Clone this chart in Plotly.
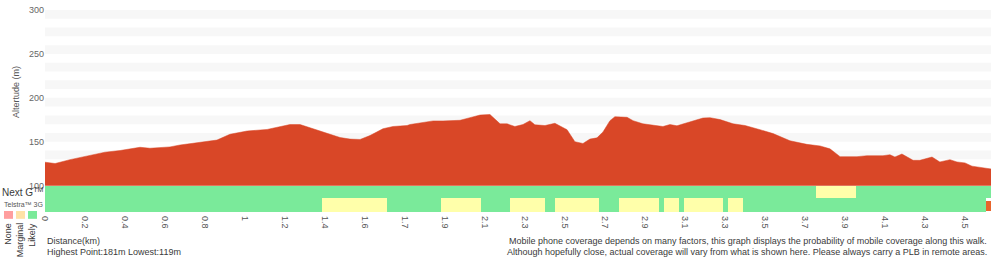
import plotly.graph_objects as go

# ---------------- data ----------------
distance_km = [0.000, 0.049, 0.121, 0.218, 0.291, 0.364, 0.461, 0.509, 0.606, 0.655,
               0.752, 0.834, 0.897, 0.980, 1.077, 1.140, 1.188, 1.237, 1.300, 1.382,
               1.431, 1.479, 1.528, 1.576, 1.639, 1.688, 1.756, 1.770, 1.833, 1.882,
               1.930, 2.013, 2.061, 2.110, 2.158, 2.207, 2.241, 2.279, 2.318, 2.352,
               2.376, 2.425, 2.473, 2.532, 2.570, 2.609, 2.643, 2.677, 2.706, 2.740,
               2.764, 2.823, 2.852, 2.900, 2.997, 3.031, 3.065, 3.143, 3.191, 3.225,
               3.274, 3.337, 3.395, 3.468, 3.531, 3.613, 3.695, 3.759, 3.807, 3.856,
               3.938, 3.986, 4.064, 4.098, 4.122, 4.156, 4.210, 4.243, 4.302, 4.340,
               4.389, 4.423, 4.462, 4.496, 4.588]
altitude_m = [126.7, 125.2, 129.6, 134.4, 138.1, 140.0, 143.7, 142.6, 144.1, 146.3,
              149.3, 151.9, 158.5, 162.2, 164.0, 167.4, 169.6, 169.6, 164.8, 159.3,
              154.8, 153.0, 152.6, 157.0, 164.8, 167.4, 168.5, 169.6, 171.8, 173.7,
              173.7, 174.4, 177.4, 180.4, 181.0, 170.4, 170.4, 167.4, 169.6, 174.0,
              169.3, 168.5, 171.0, 163.7, 150.0, 148.1, 153.0, 154.4, 161.1, 174.0,
              178.5, 177.8, 174.0, 170.4, 167.4, 169.6, 168.2, 173.3, 177.0, 177.4,
              175.2, 170.4, 168.5, 163.7, 159.3, 151.1, 147.0, 145.2, 141.9, 133.0,
              133.0, 134.1, 134.1, 135.2, 132.6, 136.0, 128.9, 128.9, 132.6, 127.0,
              129.6, 127.0, 125.9, 122.2, 119.0]

total_km = 4.588

# coverage segments (start_km, end_km)
nextg_likely = [(0.0, 3.739), (3.933, 4.588)]
nextg_marginal = [(3.739, 3.933)]
g3_likely = [(0.0, 4.564)]
g3_marginal = [(1.343, 1.659), (1.920, 2.114), (2.255, 2.425), (2.473, 2.687),
               (2.784, 2.978), (3.002, 3.075), (3.099, 3.288), (3.312, 3.385)]
g3_end = [(4.564, 4.588)]

tick_labels = ["0", "0.2", "0.4", "0.6", "0.8", "1", "1.2", "1.4", "1.6", "1.7",
               "1.9", "2.1", "2.3", "2.5", "2.7", "2.9", "3.1", "3.3", "3.5", "3.7",
               "3.9", "4.1", "4.3", "4.5"]
tick_step_km = 0.194

y_ticks = [100, 150, 200, 250, 300]
legend_labels = ["None", "Marginal", "Likely"]

# ---------------- style ----------------
RED = "#d94727"
GREEN = "#7aea9a"
YELLOW = "#ffffaa"
ORANGE = "#e8642c"
PINK = "#ff9e9e"
PEACH = "#ffe2a6"
BAND = "#f7f7f7"
TXT = "#3a3a3a"
FONT = "Liberation Sans, Arial, Helvetica, sans-serif"

W, H = 1000, 260
ML, MR, MT, MB = 45, 9, 5, 48
PW = W - ML - MR
PH = H - MT - MB
COV_PX = 27


def px(x):
    return (x - ML) / PW


def py(y):
    return (H - MB - y) / PH


fig = go.Figure()

# elevation area
fig.add_trace(go.Scatter(x=distance_km, y=altitude_m, mode="lines",
                         fill="tozeroy", fillcolor=RED,
                         line=dict(color=RED, width=0.5),
                         xaxis="x", yaxis="y", hoverinfo="skip", showlegend=False))


def add_segments(segs, row_center, row_width, color):
    fig.add_trace(go.Bar(
        x=[e - s for s, e in segs], base=[s for s, e in segs],
        y=[row_center] * len(segs), width=[row_width] * len(segs),
        orientation="h", marker=dict(color=color, line=dict(width=0)),
        xaxis="x", yaxis="y2", hoverinfo="skip", showlegend=False))


G3_C, G3_W = 7.35, 14.7
NG_C, NG_W = 20.85, 12.3
add_segments(g3_likely, G3_C, G3_W, GREEN)
add_segments(g3_marginal, G3_C, G3_W, YELLOW)
add_segments(g3_end, 6.5, 11.0, ORANGE)
add_segments(nextg_likely, NG_C, NG_W, GREEN)
add_segments(nextg_marginal, NG_C, NG_W, YELLOW)

shapes = []
# alternating background bands
for top in range(300, 100, -20):
    shapes.append(dict(type="rect", xref="x", yref="y", x0=0, x1=total_km,
                       y0=top - 10, y1=top, fillcolor=BAND, line=dict(width=0),
                       layer="below"))
# legend squares
for x0, col in [(4, PINK), (16, PEACH), (28, GREEN)]:
    shapes.append(dict(type="rect", xref="paper", yref="paper",
                       x0=px(x0), x1=px(x0 + 9), y0=py(219), y1=py(211),
                       fillcolor=col, line=dict(width=0)))

ann = []


def note(text, x, y, size=9, xanchor="left", yanchor="middle", angle=0, color=TXT):
    ann.append(dict(text=text, x=px(x), y=py(y), xref="paper", yref="paper",
                    xanchor=xanchor, yanchor=yanchor, showarrow=False,
                    textangle=angle, font=dict(size=size, color=color, family=FONT)))


note("Altertude (m)", 16, 89, size=9, xanchor="center", angle=-90, color="#555")
note("Next G<sup>TM</sup>", 0, 191, size=10)
note("Telstra™ 3G", 2, 204, size=7, color="#555")
for lbl, xc in zip(legend_labels, [8, 20, 32]):
    note(lbl, xc, 221, size=9, xanchor="center", yanchor="top", angle=-90)
note("Distance(km)", 45, 242)
note("Highest Point:181m Lowest:119m", 45, 253)
note("Mobile phone coverage depends on many factors, this graph displays the probability of mobile coverage along this walk.",
     989, 242, xanchor="right")
note("Although hopefully close, actual coverage will vary from what is shown here. Please always carry a PLB in remote areas.",
     989, 253, xanchor="right")

cov_frac = COV_PX / PH
fig.update_layout(
    width=W, height=H,
    margin=dict(l=ML, r=MR, t=MT, b=MB, pad=0),
    paper_bgcolor="white", plot_bgcolor="white",
    barmode="overlay", bargap=0,
    font=dict(family=FONT, size=9, color=TXT),
    showlegend=False,
    xaxis=dict(range=[0, total_km], anchor="y2", showgrid=False, zeroline=False,
               showline=False, tickmode="array",
               tickvals=[i * tick_step_km for i in range(len(tick_labels))],
               ticktext=tick_labels, tickangle=90, ticks="", ticklabelstandoff=3,
               tickfont=dict(size=9, color="#555")),
    yaxis=dict(domain=[cov_frac, 1], range=[100, 300], showgrid=False,
               zeroline=False, showline=False, tickmode="array", tickvals=y_ticks,
               ticks="", tickfont=dict(size=9, color="#666")),
    yaxis2=dict(domain=[0, cov_frac], range=[0, COV_PX], showgrid=False,
                zeroline=False, showline=False, showticklabels=False, ticks=""),
    shapes=shapes,
    annotations=ann,
)

fig.write_html("out.html")
